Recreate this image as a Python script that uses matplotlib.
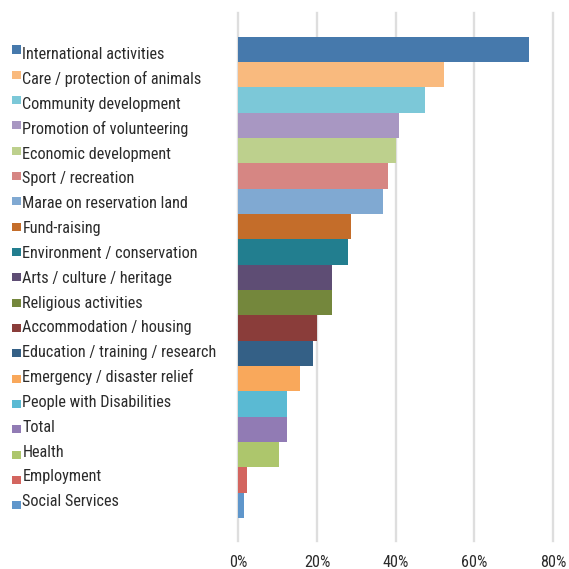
import matplotlib
matplotlib.use("Agg")
import matplotlib.pyplot as plt
from matplotlib import font_manager as fm
from matplotlib.transforms import blended_transform_factory

categories = [
    "International activities",
    "Care / protection of animals",
    "Community development",
    "Promotion of volunteering",
    "Economic development",
    "Sport / recreation",
    "Marae on reservation land",
    "Fund-raising",
    "Environment / conservation",
    "Arts / culture / heritage",
    "Religious activities",
    "Accommodation / housing",
    "Education / training / research",
    "Emergency / disaster relief",
    "People with Disabilities",
    "Total",
    "Health",
    "Employment",
    "Social Services",
]
values = [73.9, 52.3, 47.5, 40.8, 40.1, 38.0, 36.8, 28.6, 27.9, 23.8, 23.8,
          19.9, 19.0, 15.7, 12.4, 12.4, 10.4, 2.2, 1.5]
colors = [
    "#4679AC", "#F9BA7E", "#7CC8D8", "#A897C2", "#BDD08D", "#D68683",
    "#80A9D2", "#C46D2A", "#227E8F", "#5E4D74", "#74873C", "#8A3D3A",
    "#346086", "#F9A85B", "#5ABAD3", "#917BB4", "#ADC66C", "#D3655F",
    "#5F96CB",
]
xticks = [0, 20, 40, 60, 80]
xtick_labels = ["0%", "20%", "40%", "60%", "80%"]

W = H = 569
DPI = 100
fig = plt.figure(figsize=(W / DPI, H / DPI), dpi=DPI)
fig.patch.set_facecolor("white")

# prefer a narrow sans face when one is installed
installed = {(f.name, f.stretch) for f in fm.fontManager.ttflist}
names = {n for n, _ in installed}
stretch = "normal"
if "Liberation Sans Narrow" in names:
    font = ["Liberation Sans Narrow", "DejaVu Sans"]
elif "Roboto Condensed" in names:
    font = ["Roboto Condensed", "DejaVu Sans"]
elif any(n == "Roboto" and s == "condensed" for n, s in installed):
    font, stretch = ["Roboto", "DejaVu Sans"], "condensed"
else:
    font = ["Liberation Sans", "DejaVu Sans"]

text_color = "#2B2B2B"

# size the labels so the first row keeps its printed width
probe = fig.text(0, 0, categories[0], fontsize=10, family=font,
                 fontstretch=stretch)
fig.canvas.draw()
w10 = probe.get_window_extent().width
probe.remove()
fs = min(13.0, 10 * 142.0 / w10)

# plot area in pixels
left_px, right_px, top_px, bottom_px = 238.3, 553.0, 13.0, 540.7
ax = fig.add_axes([left_px / W, 1 - bottom_px / H,
                   (right_px - left_px) / W, (bottom_px - top_px) / H])

n = len(categories)
ypos = list(range(n))
ax.barh(ypos, values, height=1.0, color=colors, zorder=3)
ax.set_xlim(0, 80)
ax.set_ylim(n - 0.5 + 0.9, -0.5 - 0.94)

for xv in xticks:
    ax.axvline(xv, color="#DEDEDE", lw=1.7, zorder=1, clip_on=False)

ax.set_xticks(xticks)
ax.set_xticklabels(xtick_labels, fontsize=fs, color=text_color, family=font,
                   fontstretch=stretch)
ax.tick_params(axis="x", length=0, pad=10)
ax.set_yticks([])
for sp in ax.spines.values():
    sp.set_visible(False)

# legend-style category list on the left
trans = blended_transform_factory(fig.transFigure, ax.transData)
for i, col in enumerate(colors):
    fig.patches.append(plt.Rectangle((12.3 / W, i - 0.16), 8.4 / W, 0.32,
                                     transform=trans, facecolor=col,
                                     edgecolor="none", figure=fig))
base_top, text_step = 59.3, 24.83
for i, cat in enumerate(categories):
    y = base_top + text_step * i
    fig.text(22.5 / W, 1 - y / H, cat, fontsize=fs, color=text_color,
             family=font, fontstretch=stretch, va="baseline", ha="left")

fig.savefig("out.png", dpi=DPI)
